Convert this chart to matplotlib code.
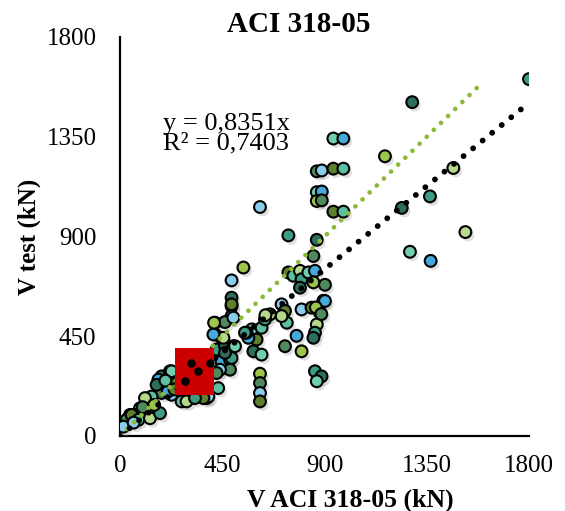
"""ACI 318-05 예측 전단강도 대 실험값 산점도 (추세선 포함)."""

import matplotlib

matplotlib.use("Agg")
import matplotlib.patheffects as pe
import matplotlib.pyplot as plt
from matplotlib.patches import Rectangle

# 산점도 데이터 (kN)
v_aci = [
    1800, 1286, 939, 983, 1166, 866, 888, 939, 983, 1467, 1364, 1240, 866, 888,
    866, 888, 616, 939, 983, 1520, 741, 866, 1276, 1367, 543, 851, 491,
    741, 763, 792, 799, 792, 829, 858, 851, 902, 799, 843, 880, 866, 858, 851,
    895, 777, 799, 726, 711, 726, 734, 711, 858, 887, 866, 902, 862, 886,
    580, 601, 623, 660, 638, 587, 623, 565, 616, 616, 616, 616, 557, 640, 550,
    491, 491, 491, 418, 462, 499, 491, 418, 447, 425, 462, 499, 447, 484, 484,
    440, 381, 432, 455, 491, 462, 506, 411, 414, 425, 389, 367,
    271, 293, 330, 183, 220, 169, 205, 183, 227, 249, 139, 110, 154, 124, 88,
    66, 44, 29, 15, 51, 81, 132, 176, 161, 227, 210, 150, 100, 60, 240, 200,
]
v_test = [
    1610, 1506, 1342, 1342, 1262, 1194, 1198, 1206, 1206, 1209, 1081, 1029, 1100,
    1103, 1060, 1063, 1033, 1012, 1012, 920, 905, 885, 831, 790, 760, 812, 702,
    738, 723, 745, 707, 669, 738, 745, 693, 682, 571, 579, 556, 503, 466, 443,
    610, 452, 382, 405, 594, 564, 511, 541, 292, 269, 247, 609, 580, 550,
    481, 435, 488, 549, 526, 382, 367, 443, 281, 239, 194, 156, 466, 545, 466,
    624, 586, 541, 511, 514, 534, 594, 458, 443, 390, 405, 405, 337, 345, 299,
    299, 171, 216, 443, 352, 375, 405, 458, 511, 284, 178, 171,
    156, 156, 171, 269, 292, 254, 224, 194, 186, 239, 178, 171, 118, 118, 125,
    95, 95, 73, 42, 95, 73, 80, 103, 231, 292, 200, 140, 130, 60, 210, 250,
]

# 강조 상자 안의 검은 점
box_aci = [312, 396, 342, 286]
box_test = [330, 330, 291, 246]
highlight_box = (242, 186, 412, 398)  # x0, y0, x1, y1

slope = 0.8351
r_squared = 0.7403
trend_end = 1770
equality_end = 1575

palette = [
    "#3E9B84", "#2D6E5E", "#6FCFB0", "#45A9DA", "#9CC54A",
    "#4F8A5E", "#8ACDEB", "#5E7F2E", "#5BBFA0", "#B5D98A",
]

plt.rcParams["font.family"] = ["Liberation Serif", "DejaVu Serif"]

fig = plt.figure(figsize=(5.65, 5.11), dpi=100)
ax = fig.add_axes([0.2124, 0.1468, 0.7239, 0.7808])

colors = [palette[i % len(palette)] for i in range(len(v_aci))]
points = ax.scatter(
    v_aci, v_test, s=72, c=colors, edgecolors="black", linewidths=1.5, zorder=3,
)
points.set_path_effects([
    pe.SimplePatchShadow(offset=(2, -2.5), shadow_rgbFace="0.6", alpha=0.3),
    pe.Normal(),
])

ax.plot(
    [0, equality_end], [0, equality_end], color="#8DB83A", linewidth=3.4,
    linestyle=(0, (0.01, 2.1)), dash_capstyle="round", zorder=4,
)
ax.plot(
    [0, trend_end], [0, slope * trend_end], color="black", linewidth=4.2,
    linestyle=(0, (0.01, 2.1)), dash_capstyle="round", zorder=4,
)

x0, y0, x1, y1 = highlight_box
ax.add_patch(Rectangle((x0, y0), x1 - x0, y1 - y0, facecolor="#CC0000",
                       edgecolor="none", zorder=5))
ax.scatter(box_aci, box_test, s=26, c="black", zorder=6)

equation = (f"y = {slope:.4f}x\nR² = {r_squared:.4f}").replace(".", ",")
ax.text(0.105, 0.758, equation, transform=ax.transAxes, fontsize=19,
        va="center", linespacing=0.88)

ax.set_xlim(0, 1800)
ax.set_ylim(0, 1800)
ticks = [0, 450, 900, 1350, 1800]
ax.set_xticks(ticks)
ax.set_yticks(ticks)
ax.tick_params(length=0, labelsize=18)
ax.tick_params(axis="y", pad=17)
ax.tick_params(axis="x", pad=14)
for side in ("top", "right"):
    ax.spines[side].set_visible(False)
for side in ("left", "bottom"):
    ax.spines[side].set_linewidth(1.6)

ax.set_xlabel("V ACI 318-05 (kN)", fontsize=18.5, fontweight="bold")
ax.xaxis.set_label_coords(0.562, -0.132)
ax.set_ylabel("V test (kN)", fontsize=18, fontweight="bold", labelpad=4)
fig.text(0.529, 0.953, "ACI 318-05", fontsize=21, fontweight="bold",
         ha="center", va="center")

fig.savefig("out.png", dpi=100)
